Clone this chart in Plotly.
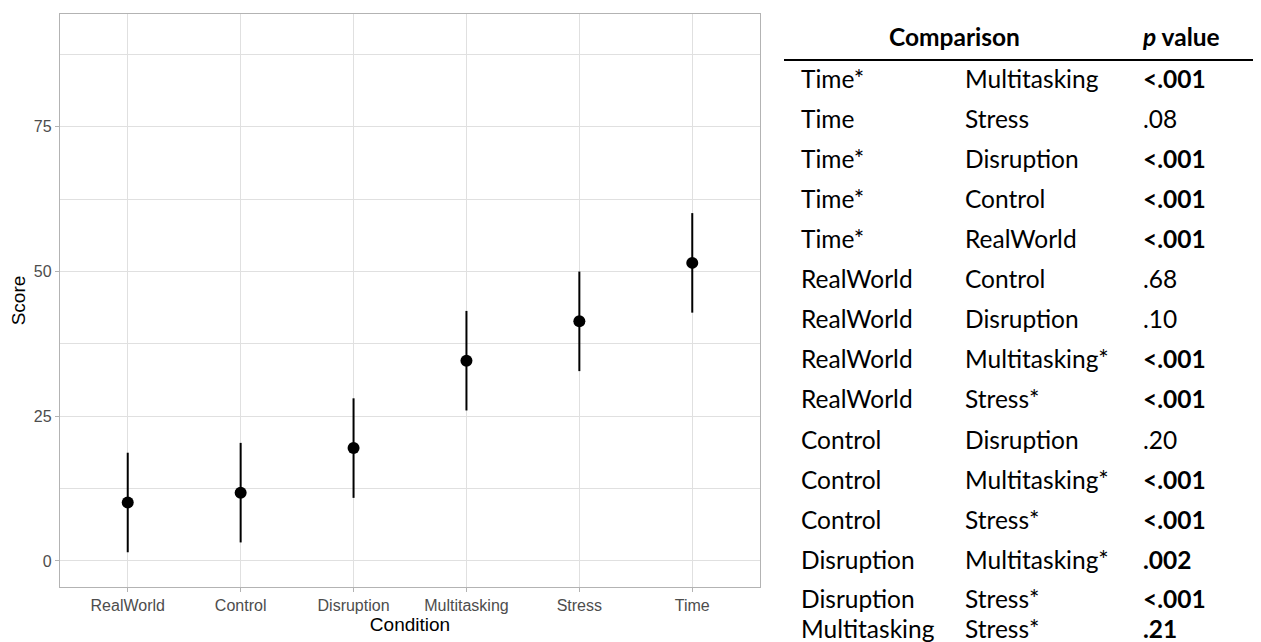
import plotly.graph_objects as go

# ---- data ----
conditions = ["RealWorld", "Control", "Disruption", "Multitasking", "Stress", "Time"]
means = [10.1, 11.8, 19.5, 34.6, 41.4, 51.5]
err_plus = [8.6, 8.6, 8.6, 8.6, 8.6, 8.6]
err_minus = [8.6, 8.6, 8.6, 8.6, 8.6, 8.6]

y_ticks = [0, 25, 50, 75]

cmp_a = ["Time*", "Time", "Time*", "Time*", "Time*", "RealWorld", "RealWorld",
         "RealWorld", "RealWorld", "Control", "Control", "Control",
         "Disruption", "Disruption", "Multitasking"]
cmp_b = ["Multitasking", "Stress", "Disruption", "Control", "RealWorld", "Control",
         "Disruption", "Multitasking*", "Stress*", "Disruption", "Multitasking*",
         "Stress*", "Multitasking*", "Stress*", "Stress*"]
p_vals = ["<.001", ".08", "<.001", "<.001", "<.001", ".68", ".10", "<.001",
          "<.001", ".20", "<.001", "<.001", ".002", "<.001", ".21"]
p_bold = [True, False, True, True, True, False, False, True, True, False,
          True, True, True, True, True]

# ---- layout geometry (window pixels); page body has an 8px margin ----
OFF = 8
WIN_W, WIN_H = 1261, 642
W, H = WIN_W - OFF, WIN_H - OFF
PL, PR, PT, PB = 60 - OFF, 760 - OFF, 14 - OFF, 587 - OFF

fig = go.Figure()
fig.add_trace(go.Scatter(
    x=conditions, y=means, mode="markers",
    marker=dict(color="black", size=12),
    error_y=dict(type="data", symmetric=False, array=err_plus,
                 arrayminus=err_minus, color="black", thickness=2, width=0),
    showlegend=False, hoverinfo="skip",
))

grid_col = "#e0e0e0"
border_col = "#b3b3b3"
tick_font = dict(family="Liberation Sans, Arial, sans-serif", size=16, color="#4d4d4d")
title_font = dict(family="Liberation Sans, Arial, sans-serif", size=19, color="black")

fig.update_layout(
    width=W, height=H,
    margin=dict(l=PL, r=W - PR, t=PT, b=H - PB, pad=0),
    paper_bgcolor="white", plot_bgcolor="white",
    xaxis=dict(
        type="category", categoryorder="array", categoryarray=conditions,
        range=[-0.6, 5.6], showgrid=True, gridcolor=grid_col, gridwidth=1,
        showline=True, linecolor=border_col, linewidth=1.3, mirror=True,
        ticks="outside", ticklen=4, tickcolor=border_col, tickwidth=1,
        tickfont=tick_font,
        title=dict(text="Condition", font=title_font, standoff=4),
        zeroline=False, fixedrange=True,
    ),
    yaxis=dict(
        range=[-4.5, 94.5], tickvals=y_ticks, showgrid=True,
        gridcolor=grid_col, gridwidth=1,
        minor=dict(dtick=12.5, tick0=0, showgrid=True, gridcolor=grid_col, gridwidth=0.8),
        showline=True, linecolor=border_col, linewidth=1.3, mirror=True,
        ticks="outside", ticklen=4, tickcolor=border_col, tickwidth=1,
        tickfont=tick_font,
        title=dict(text="Score", font=title_font, standoff=7),
        zeroline=False, fixedrange=True,
    ),
)

# ---- table on the right (annotations in paper coords from window pixel positions) ----
def px_x(px):
    return (px - OFF - PL) / (PR - PL)

def px_y(py):
    return (PB - (py - OFF)) / (PB - PT)

tfont = "Lato, Carlito, Calibri, sans-serif"
fs = 24.5

col_x = [799, 963, 1141]
row_y = [78, 118, 158, 198, 238, 278, 318, 358, 398, 439, 479, 519, 559, 598, 628]

fig.add_annotation(x=px_x(954), y=px_y(37), xref="paper", yref="paper",
                   text="<b>Comparison</b>", showarrow=False,
                   xanchor="center", yanchor="middle",
                   font=dict(family=tfont, size=fs, color="black"))
fig.add_annotation(x=px_x(1140), y=px_y(37), xref="paper", yref="paper",
                   text="<b><i>p</i> value</b>", showarrow=False,
                   xanchor="left", yanchor="middle",
                   font=dict(family=tfont, size=fs, color="black"))
fig.add_shape(type="line", xref="paper", yref="paper",
              x0=px_x(784), x1=px_x(1261), y0=px_y(60), y1=px_y(60),
              line=dict(color="black", width=2))

for i in range(len(cmp_a)):
    y = px_y(row_y[i])
    pv = f"<b>{p_vals[i]}</b>" if p_bold[i] else p_vals[i]
    for cx, txt in zip(col_x, [cmp_a[i], cmp_b[i], pv]):
        fig.add_annotation(x=px_x(cx), y=y, xref="paper", yref="paper",
                           text=txt, showarrow=False,
                           xanchor="left", yanchor="middle",
                           font=dict(family=tfont, size=fs, color="black"))

fig.write_html("out.html")
